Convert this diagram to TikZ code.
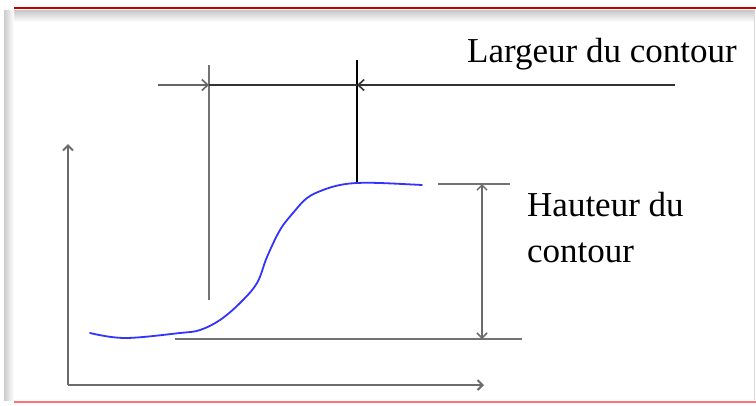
\documentclass[tikz,border=0pt]{standalone}
\usepackage{fontspec}
\setmainfont{Liberation Serif}
\usetikzlibrary{arrows.meta, positioning}

\begin{document}
\begin{tikzpicture}[x=1pt, y=-1pt,
		axe/.style={draw=gray!85!black, line width=2pt, -{Straight Barb[length=5pt,width=10pt]}},
		repere/.style={draw=gray!90!black, line width=2.3pt},
		cote/.style={draw=black!80, line width=1.6pt},
		courbe/.style={draw=blue!80!white, line width=1.8pt, line cap=round},
		etiquette/.style={inner sep=0pt, font=\fontsize{35}{46}\selectfont, align=left}]
	\useasboundingbox (0,0) rectangle (756,405);
	% cadre
	\fill[white] (0,0) rectangle (756,405);
	\shade[top color=gray!45, bottom color=white] (6,10) rectangle (754,22);
	\shade[left color=gray!40, right color=white] (4,10) rectangle (14,400);
	\draw[red!75!black, line width=2.5pt] (14,8) -- (756,8);
	\draw[red!55, line width=1.5pt] (14,402) -- (756,402);
	\draw[gray!30, line width=0.8pt] (754,10) -- (754,400);

	% axes
	\coordinate (o) at (68,385);
	\coordinate (ymax) at (68,144);
	\coordinate (xmax) at (484,385);
	\draw[axe] (o) -- (ymax);
	\draw[axe] (o) -- (xmax);

	% niveaux bas et haut
	\coordinate (bas1) at (175,339);
	\coordinate (bas2) at (522,339);
	\coordinate (haut1) at (438,184);
	\coordinate (haut2) at (510,184);
	\draw[repere] (bas1) -- (bas2);
	\draw[repere] (haut1) -- (haut2);
	\coordinate (h1) at (482,184);
	\coordinate (h2) at (482,339);
	\draw[draw=gray!85!black, line width=1.5pt, {Straight Barb[length=5pt,width=10pt]}-{Straight Barb[length=5pt,width=10pt]}] (h1) -- (h2);

	% largeur
	\coordinate (v1) at (209,65);
	\coordinate (v1b) at (209,300);
	\coordinate (v2) at (357,60);
	\coordinate (v2b) at (357,182);
	\draw[repere] (v1) -- (v1b);
	\draw[black, line width=1.5pt] (v2) -- (v2b);
	\coordinate (l1) at (158,85);
	\coordinate (l2) at (675,85);
	\coordinate (la) at (209,85);
	\coordinate (lb) at (357,85);
	\draw[cote] (la) -- (lb);
	\draw[cote, draw=gray!80!black, -{Straight Barb[length=6pt,width=11pt]}] (l1) -- (la);
	\draw[cote, -{Straight Barb[length=6pt,width=11pt]}] (l2) -- (lb);

	% contour
	\draw[courbe] plot[smooth, tension=0.6] coordinates {(90,333) (125,338) (180,333) (200,330) (220,320) (240,303) (257,283) (267,257) (280,230) (293,213) (307,198) (323,190) (340,185) (357,183) (380,183) (422,185)};

	% textes
	\node[etiquette, anchor=base west] (largeur) at (467,62) {Largeur du contour};
	\node[etiquette, anchor=north west] (hauteur) at (527,192) {Hauteur du\\contour};
\end{tikzpicture}
\end{document}
